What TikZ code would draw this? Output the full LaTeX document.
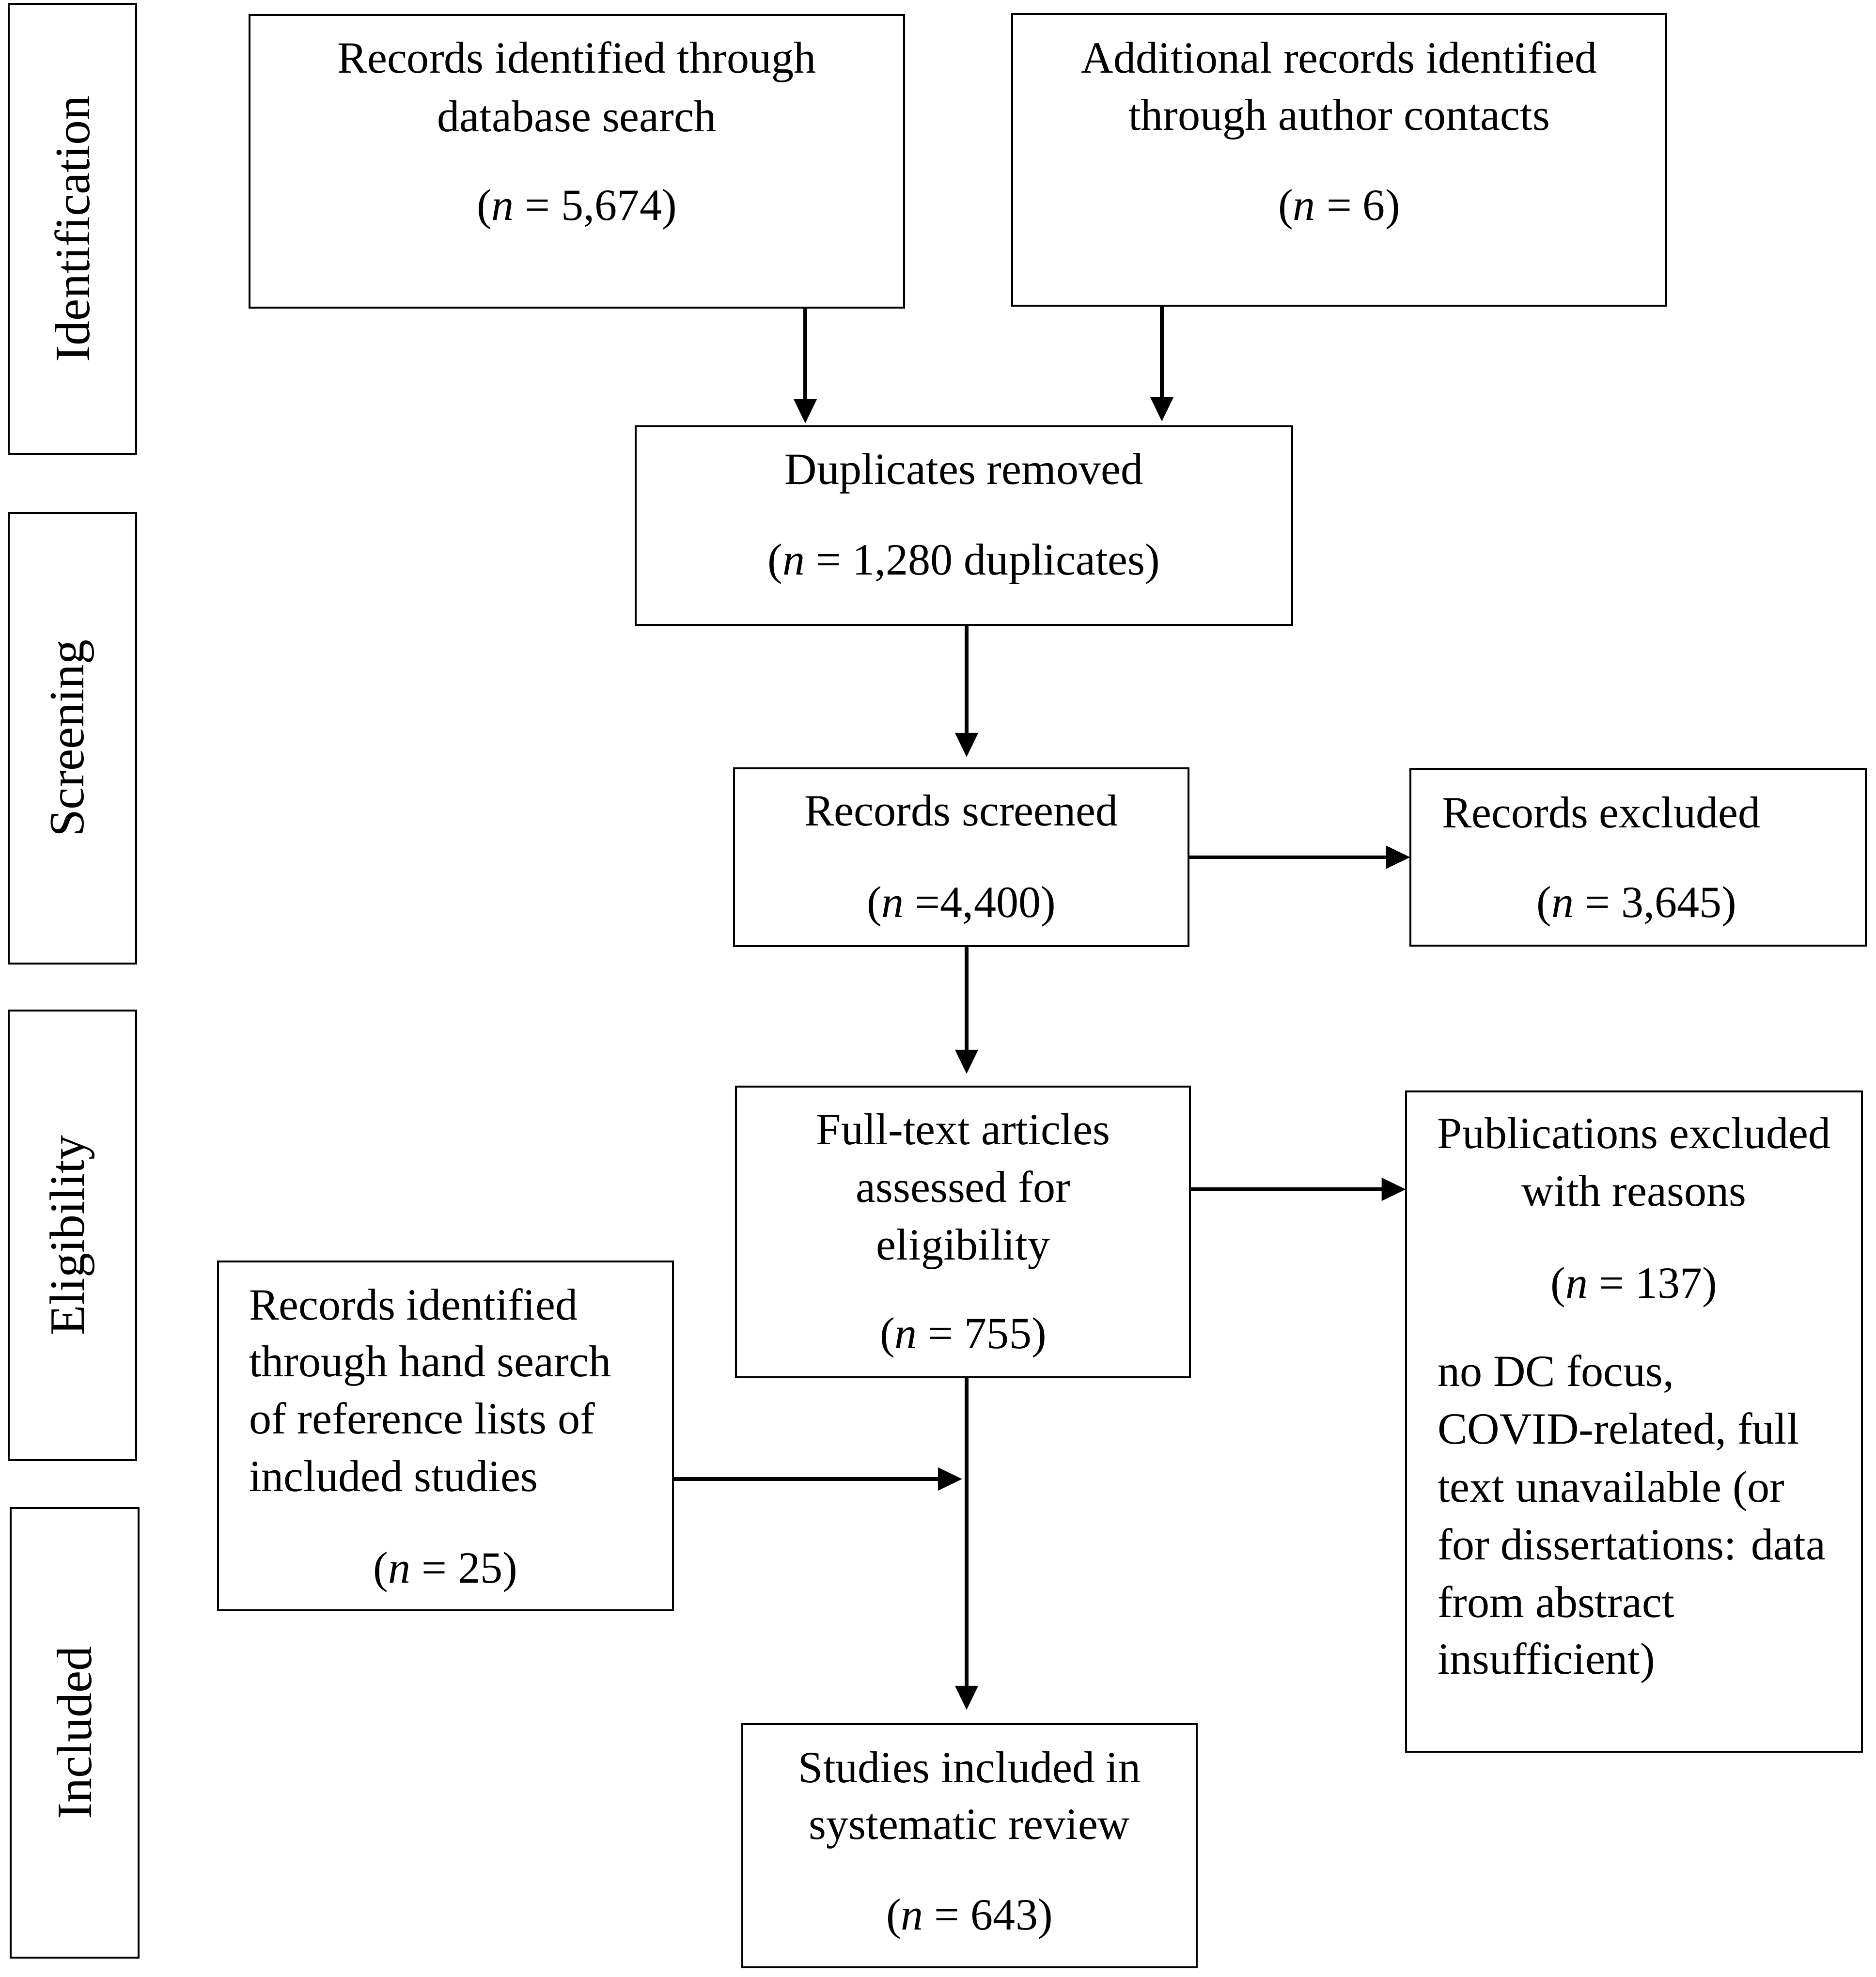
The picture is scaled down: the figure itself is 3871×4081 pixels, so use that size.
\documentclass[tikz,border=0pt]{standalone}
\usepackage{fontspec}
\setmainfont{Liberation Serif}
\usetikzlibrary{arrows.meta}
\begin{document}
\begin{tikzpicture}[x=0.01cm,y=-0.01cm,
  box/.style={draw,line width=1.15pt,inner sep=0pt,outer sep=0pt},
  txt/.style={inner sep=0pt,outer sep=0pt,font=\fontsize{26.2pt}{34pt}\selectfont},
  side/.style={draw,line width=1.15pt,inner sep=0pt,outer sep=0pt,rotate=90,font=\fontsize{29pt}{35pt}\selectfont},
  arr/.style={line width=2.1pt,-{Triangle[length=0.5cm,width=0.46cm]}}]
\useasboundingbox (0,0) rectangle (3871,4081);

% side labels
\node[side,minimum width=9.29cm,minimum height=2.63cm] (sid) at (149.5,472.5) {Identification};
\node[side,minimum width=9.30cm,minimum height=2.63cm] (sscr) at (149.5,1524) {Screening};
\node[side,minimum width=9.28cm,minimum height=2.63cm] (selig) at (149.5,2550) {Eligibility};
\node[side,minimum width=9.28cm,minimum height=2.64cm] (sincl) at (154,3577) {Included};

% boxes
\node[box,minimum width=13.51cm,minimum height=6.04cm] (A) at (1190.5,333) {};
\node[box,minimum width=13.50cm,minimum height=6.02cm] (B) at (2764,330) {};
\node[box,minimum width=13.55cm,minimum height=4.10cm] (dup) at (1989.5,1085) {};
\node[box,minimum width=9.38cm,minimum height=3.67cm] (scr) at (1984,1769.5) {};
\node[box,minimum width=9.40cm,minimum height=3.65cm] (exc) at (3381,1769.5) {};
\node[box,minimum width=9.37cm,minimum height=6.00cm] (full) at (1987.5,2543) {};
\node[box,minimum width=9.41cm,minimum height=13.63cm] (pub) at (3372.5,2934.5) {};
\node[box,minimum width=9.39cm,minimum height=7.20cm] (hand) at (919.5,2964) {};
\node[box,minimum width=9.38cm,minimum height=5.02cm] (stud) at (2001,3810) {};

% texts
\node[txt,anchor=base] (A1) at (1190.5,150) {Records identified through};
\node[txt,anchor=base] (A2) at (1190.5,271) {database search};
\node[txt,anchor=base] (A3) at (1190.5,454) {(\textit{n} = 5,674)};

\node[txt,anchor=base] (B1) at (2764,150) {Additional records identified};
\node[txt,anchor=base] (B2) at (2764,268) {through author contacts};
\node[txt,anchor=base] (B3) at (2764,454) {(\textit{n} = 6)};

\node[txt,anchor=base] (D1) at (1989.5,999) {Duplicates removed};
\node[txt,anchor=base] (D2) at (1989.5,1186) {(\textit{n} = 1,280 duplicates)};

\node[txt,anchor=base] (S1) at (1984,1704) {Records screened};
\node[txt,anchor=base] (S2) at (1984,1893) {(\textit{n} =4,400)};

\node[txt,anchor=base west] (E1) at (2976,1708) {Records excluded};
\node[txt,anchor=base] (E2) at (3378,1893) {(\textit{n} = 3,645)};

\node[txt,anchor=base] (F1) at (1988,2362) {Full-text articles};
\node[txt,anchor=base] (F2) at (1988,2481) {assessed for};
\node[txt,anchor=base] (F3) at (1988,2600) {eligibility};
\node[txt,anchor=base] (F4) at (1988,2783) {(\textit{n} = 755)};

\node[txt,anchor=base] (P1) at (3372.5,2370) {Publications excluded};
\node[txt,anchor=base] (P2) at (3372.5,2489) {with reasons};
\node[txt,anchor=base] (P3) at (3372.5,2679) {(\textit{n} = 137)};
\node[txt,anchor=base west] (P4) at (2967,2861) {no DC focus,};
\node[txt,anchor=base west] (P5) at (2967,2980) {COVID-related, full};
\node[txt,anchor=base west] (P6) at (2967,3100) {text unavailable (or};
\node[txt,anchor=base west] (P7) at (2967,3219) {for dissertations: data};
\node[txt,anchor=base west] (P8) at (2967,3338) {from abstract};
\node[txt,anchor=base west] (P9) at (2967,3455) {insufficient)};

\node[txt,anchor=base west] (H1) at (514,2724) {Records identified};
\node[txt,anchor=base west] (H2) at (514,2841) {through hand search};
\node[txt,anchor=base west] (H3) at (514,2959) {of reference lists of};
\node[txt,anchor=base west] (H4) at (514,3078) {included studies};
\node[txt,anchor=base] (H5) at (919.5,3267) {(\textit{n} = 25)};

\node[txt,anchor=base] (T1) at (2001,3679) {Studies included in};
\node[txt,anchor=base] (T2) at (2001,3796) {systematic review};
\node[txt,anchor=base] (T3) at (2001,3983) {(\textit{n} = 643)};

% helper coordinates
\coordinate (cA) at (1662,0);
\coordinate (cB) at (2398,0);
\coordinate (cC) at (1995,0);
\coordinate (rF) at (0,2455);
\coordinate (rH) at (0,3053);

% connectors
\draw[arr,shorten >=0.06cm] (A.south -| cA) -- (dup.north -| cA);
\draw[arr,shorten >=0.1cm] (B.south -| cB) -- (dup.north -| cB);
\draw[arr,shorten >=0.23cm] (dup.south -| cC) -- (scr.north -| cC);
\draw[arr] (scr.east) -- (exc.west);
\draw[arr,shorten >=0.26cm] (scr.south -| cC) -- (full.north -| cC);
\draw[arr] (full.east |- rF) -- (pub.west |- rF);
\draw[arr,shorten >=0.29cm] (full.south -| cC) -- (stud.north -| cC);
\draw[arr,shorten >=0.09cm] (hand.east |- rH) -- (cC |- rH);
\end{tikzpicture}
\end{document}
